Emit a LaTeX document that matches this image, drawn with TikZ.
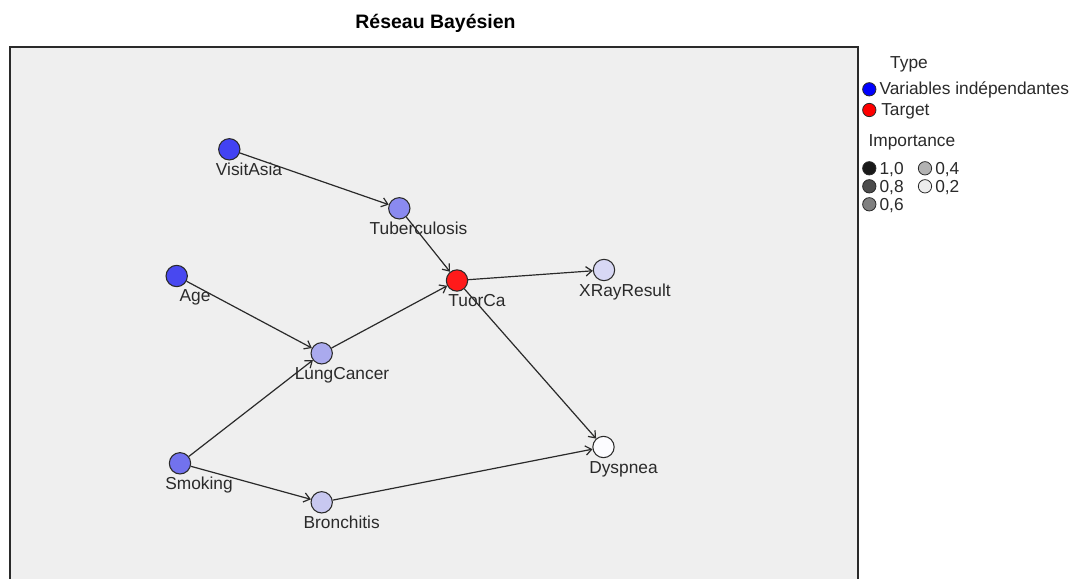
\documentclass[tikz,border=0pt]{standalone}
\usepackage{fontspec}
\setmainfont{Liberation Sans}
\usetikzlibrary{arrows.meta}
\definecolor{plotbg}{HTML}{EFEFEF}
\definecolor{cvis}{HTML}{4242F2}
\definecolor{cage}{HTML}{4848F0}
\definecolor{csmo}{HTML}{7272EE}
\definecolor{ctub}{HTML}{8A8AF0}
\definecolor{clung}{HTML}{AAAAEE}
\definecolor{cbro}{HTML}{C8C8F0}
\definecolor{cxray}{HTML}{D8D8F4}
\definecolor{cdys}{HTML}{FCFCFF}
\definecolor{ctar}{HTML}{FF1A1A}
\definecolor{lblue}{HTML}{0000FF}
\definecolor{lred}{HTML}{FF0000}
\definecolor{ink}{HTML}{2A2A2A}
\begin{document}
\begin{tikzpicture}[x=0.75pt,y=-0.75pt,
  bn/.style={circle,draw=ink,line width=0.8pt,minimum size=16pt,inner sep=0pt},
  lbl/.style={anchor=base,text=ink,font=\fontsize{13}{15}\selectfont,inner sep=0pt},
  lgt/.style={anchor=base west,text=ink,font=\fontsize{13}{15}\selectfont,inner sep=0pt},
  edge/.style={draw=ink,line width=0.9pt,-{Straight Barb[length=4.5pt,width=7pt]}},
  lg/.style={circle,draw=ink,line width=0.6pt,minimum size=10pt,inner sep=0pt}]
\useasboundingbox (0,0) rectangle (1076,579);
\fill[white] (0,0) rectangle (1076,579);
\begin{scope}
\clip (0,0) rectangle (1076,579);
\draw[fill=plotbg,draw=ink,line width=1.2pt] (10,47) rectangle (858,600);
\end{scope}
\node[anchor=base,text=black,font=\bfseries\fontsize{14.6}{17}\selectfont,inner sep=0pt] (title) at (435.5,28.5) {Réseau Bayésien};
% network nodes
\node[bn,fill=cvis] (vis) at (229.3,149.3) {};
\node[bn,fill=ctub] (tub) at (399.3,208.3) {};
\node[bn,fill=cage] (age) at (176.7,276) {};
\node[bn,fill=ctar] (tar) at (457,280.5) {};
\node[bn,fill=cxray] (xray) at (604,270) {};
\node[bn,fill=clung] (lung) at (321.7,353.3) {};
\node[bn,fill=cdys] (dys) at (603.5,447) {};
\node[bn,fill=csmo] (smo) at (180,463.3) {};
\node[bn,fill=cbro] (bro) at (321.7,502.3) {};
% edges
\draw[edge] (vis) -- (tub);
\draw[edge] (tub) -- (tar);
\draw[edge] (age) -- (lung);
\draw[edge] (lung) -- (tar);
\draw[edge] (smo) -- (lung);
\draw[edge] (smo) -- (bro);
\draw[edge] (bro) -- (dys);
\draw[edge] (tar) -- (xray);
\draw[edge] (tar) -- (dys);
% labels
\node[lbl] (lvis) at (249,175) {VisitAsia};
\node[lbl] (ltub) at (418.5,234) {Tuberculosis};
\node[lbl] (lage) at (195,301.5) {Age};
\node[lbl] (ltar) at (477,306.5) {TuorCa};
\node[lbl] (lxray) at (625,296) {XRayResult};
\node[lbl] (llung) at (342,379) {LungCancer};
\node[lbl] (ldys) at (623.5,473) {Dyspnea};
\node[lbl] (lsmo) at (199,489.3) {Smoking};
\node[lbl] (lbro) at (341.7,528.3) {Bronchitis};
% legend
\node[lbl] (ltype) at (909,68) {Type};
\node[lg,fill=lblue] (lgb) at (869.3,89.3) {};
\node[lgt] (lgbt) at (879.3,94.5) {Variables indépendantes};
\node[lg,fill=lred] (lgr) at (869.3,110) {};
\node[lgt] (lgrt) at (881,115.3) {Target};
\node[lgt] (limp) at (868.3,146) {Importance};
\node[lg,fill=black!90] (i10) at (869.3,168.3) {};
\node[lgt] (i10t) at (879.3,174) {1,0};
\node[lg,fill=black!70] (i08) at (869.3,186.3) {};
\node[lgt] (i08t) at (879.3,192) {0,8};
\node[lg,fill=black!50] (i06) at (869.3,204.3) {};
\node[lgt] (i06t) at (879.3,210) {0,6};
\node[lg,fill=black!30] (i04) at (925,168.3) {};
\node[lgt] (i04t) at (935,174) {0,4};
\node[lg,fill=black!7] (i02) at (925,186.3) {};
\node[lgt] (i02t) at (935,192) {0,2};
\end{tikzpicture}
\end{document}
